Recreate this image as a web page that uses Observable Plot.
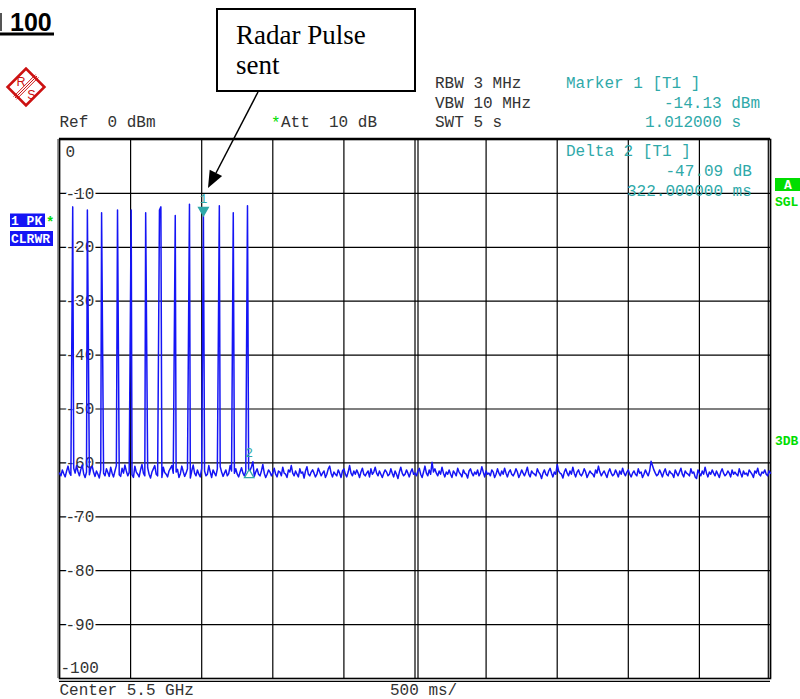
<!DOCTYPE html>
<html><head><meta charset="utf-8">
<script src="https://cdn.jsdelivr.net/npm/d3@7"></script>
<script src="https://cdn.jsdelivr.net/npm/@observablehq/plot@0.6"></script>
<style>body{margin:0;background:#fff} svg{display:block}</style>
</head><body><div id="chart"></div>
<script>
// ---- data ----
const sweepStep = 0.01; // s per sweep point
const noise = [
-61.9,-62.4,-61.3,-62.0,-62.6,-61.5,-60.6,-61.8,-62.3,-62.1,-61.0,-61.9,-60.5,-61.6,-62.4,-61.2,-60.4,-62.0,-62.7,-61.7,-61.4,-62.2,-61.0,-60.6,-61.8,
-62.5,-61.5,-62.1,-62.8,-61.3,-60.3,-61.9,-62.4,-61.1,-61.8,-62.5,-60.8,-61.9,-62.6,-61.5,-60.5,-61.4,-62.2,-62.5,-61.0,-61.9,-60.4,-61.5,-62.4,-61.8,
-61.1,-62.2,-62.7,-60.6,-61.7,-62.1,-62.6,-61.3,-60.3,-61.9,-62.4,-61.5,-60.9,-62.1,-62.8,-61.7,-61.1,-60.5,-62.1,-62.4,-61.3,-61.9,-62.7,-60.8,-61.8,
-62.1,-62.6,-61.5,-61.0,-60.5,-61.9,-62.4,-61.7,-61.2,-62.7,-62.0,-60.6,-61.6,-62.5,-61.9,-61.1,-62.1,-62.8,-61.5,-60.4,-61.9,-62.4,-61.3,-62.1,-62.6,
-61.0,-61.9,-61.5,-62.4,-62.1,-60.5,-61.7,-62.7,-61.3,-61.9,-62.4,-61.1,-62.1,-60.7,-61.7,-62.5,-61.9,-61.3,-62.4,-62.0,-60.5,-61.5,-62.7,-61.9,-61.1,
-62.1,-62.6,-61.7,-60.9,-61.9,-62.4,-61.5,-62.1,-61.2,-61.4,-60.7,-59.8,-62.5,-61.7,-61.1,-62.1,-62.4,-61.5,-60.3,-61.9,-62.7,-62.1,-61.3,-61.7,-62.4,
-61.9,-61.0,-62.1,-62.6,-61.5,-61.7,-62.4,-60.8,-61.9,-62.1,-62.7,-61.3,-61.7,-60.5,-61.9,-62.4,-61.5,-62.1,-62.6,-61.1,-61.9,-61.7,-62.8,-61.5,-60.7,
-62.1,-62.4,-61.7,-61.3,-61.9,-62.6,-62.1,-61.0,-61.7,-62.4,-61.9,-61.5,-62.7,-62.1,-61.1,-60.6,-61.9,-62.6,-61.7,-62.1,-62.4,-61.3,-61.9,-62.7,-61.5,
-61.1,-62.1,-62.6,-61.7,-60.5,-61.9,-62.4,-61.5,-62.1,-61.3,-61.9,-62.7,-61.7,-61.0,-62.1,-62.4,-61.9,-61.5,-62.6,-61.1,-62.1,-61.7,-60.8,-61.9,-62.4,
-61.5,-62.1,-62.7,-61.9,-61.3,-61.7,-62.4,-62.1,-61.1,-61.9,-62.6,-61.5,-62.1,-62.9,-61.7,-60.8,-61.9,-62.4,-62.1,-61.3,-61.9,-62.6,-61.7,-61.1,-62.1,
-61.9,-62.4,-61.5,-61.0,-62.1,-62.7,-61.7,-60.6,-61.9,-62.4,-61.3,-62.1,-59.9,-61.7,-61.1,-61.9,-62.4,-61.5,-62.1,-60.8,-61.9,-62.6,-61.7,-62.1,-61.3,
-62.1,-62.7,-61.5,-61.9,-62.4,-61.0,-61.7,-62.1,-62.6,-61.3,-61.9,-62.1,-62.8,-61.5,-61.1,-61.9,-62.4,-61.7,-62.1,-61.3,-62.4,-61.9,-60.7,-61.7,-62.6,
-61.5,-62.1,-61.9,-62.4,-61.3,-61.7,-62.7,-62.1,-61.1,-61.9,-62.4,-61.5,-62.1,-61.0,-61.9,-62.6,-61.7,-61.3,-62.1,-62.4,-61.9,-61.1,-61.7,-62.7,-62.1,
-61.3,-61.9,-62.4,-61.7,-60.8,-62.1,-62.6,-61.5,-61.9,-62.1,-62.4,-61.1,-61.7,-62.1,-62.9,-61.9,-61.3,-62.1,-62.4,-61.5,-61.0,-61.9,-62.6,-61.7,-62.1,
-60.3,-61.5,-61.9,-62.1,-62.8,-61.7,-61.1,-61.9,-62.4,-61.5,-62.1,-60.8,-61.9,-62.6,-61.7,-61.3,-62.1,-62.4,-61.9,-61.1,-61.7,-62.7,-62.1,-61.5,-61.9,
-62.1,-62.6,-61.3,-61.9,-60.6,-61.7,-62.4,-61.9,-61.5,-62.1,-62.7,-61.7,-61.1,-61.9,-62.4,-62.1,-61.3,-61.9,-62.6,-61.5,-62.1,-61.0,-61.9,-62.4,-61.7,
-61.3,-62.1,-62.6,-61.9,-61.5,-62.1,-62.4,-61.1,-61.9,-61.7,-62.7,-62.1,-61.3,-61.9,-62.4,-61.5,-59.7,-60.5,-61.3,-61.9,-62.4,-62.1,-61.3,-61.9,-62.6,
-61.7,-61.1,-62.1,-62.4,-61.5,-61.9,-62.1,-62.7,-61.3,-61.9,-62.4,-61.7,-61.0,-62.1,-62.6,-61.5,-61.9,-62.1,-62.4,-61.1,-61.9,-61.7,-62.6,-62.9,-61.3,
-61.9,-62.4,-61.5,-62.1,-60.8,-61.9,-62.6,-61.7,-62.1,-61.3,-61.9,-62.4,-61.5,-62.1,-62.7,-61.7,-61.1,-61.9,-62.4,-62.1,-61.5,-61.9,-62.6,-61.3,-62.1,
-61.7,-62.1,-62.4,-61.1,-61.9,-62.6,-61.5,-62.1,-61.9,-62.4,-61.3,-61.7,-62.1,-62.7,-61.5,-61.9,-61.0,-62.1,-62.4,-61.7,-61.9,-61.3,-62.1,-62.4,-61.5,
-61.9
];
const pulseTimes = [0.093, 0.196, 0.296, 0.408, 0.504, 0.606, 0.703, 0.713, 0.814, 0.914, 1.012, 1.124, 1.222, 1.322];
const pulsePeaks = [-12.5, -13.1, -13.6, -13.1, -13.1, -13.6, -13.1, -12.5, -14.1, -12.0, -14.13, -12.3, -13.6, -12.3];
const markerTimes = [1.012, 1.334];
const markerLevels = [-14.13, -61.22];
const markerNames = ["1", "2"];
const xGrid = [0, 0.5, 1, 1.5, 2, 2.5, 3, 3.5, 4, 4.5, 5];
const yTicks = [0, -10, -20, -30, -40, -50, -60, -70, -80, -90, -100];
const yLabels = ["0", "-10", "-20", "-30", "-40", "-50", "-60", "-70", "-80", "-90", "-100"];

// ---- build trace ----
const trace = noise.map((v, i) => ({t: i * sweepStep, dB: v}));
pulseTimes.forEach((tp, k) => {
  const i = Math.round(tp / sweepStep);
  trace[i] = {t: tp, dB: pulsePeaks[k]};
});
const markers = markerTimes.map((t, i) => ({t, dB: markerLevels[i], name: markerNames[i]}));

const mono = "Liberation Mono, Courier New, monospace";
const teal = "#2fa9a9";
const green = "#00dd00";
const blue = "#1515f5";

const midIdx = d3.range(1, yTicks.length - 1);

const chart = Plot.plot({
  width: 800, height: 699,
  marginLeft: 59, marginRight: 30, marginTop: 139, marginBottom: 21,
  x: {domain: [0, 5], axis: null},
  y: {domain: [-100, 0], axis: null},
  style: {background: "white", fontFamily: mono},
  marks: [
    Plot.ruleX(xGrid, {stroke: "#000", strokeWidth: 1.2}),
    Plot.ruleY(yTicks, {stroke: "#000", strokeWidth: 1.2}),
    Plot.ruleX([2.5], {dx: 3, stroke: "#000", strokeWidth: 1.2}),
    Plot.ruleX([0], {dx: -1.6, stroke: "#888", strokeWidth: 1.5}),
    Plot.ruleX([5], {dx: -2.2, stroke: "#000", strokeWidth: 1.2}),
    Plot.ruleY([-100], {dy: 2.8, stroke: "#000", strokeWidth: 1.2}),
    Plot.ruleY([0], {dy: -1.2, stroke: "#000", strokeWidth: 1.2}),
    Plot.frame({stroke: "#000", strokeWidth: 1.6}),
    Plot.text(midIdx, {y: i => yTicks[i], text: i => yLabels[i], frameAnchor: "left", dx: 6, textAnchor: "start",
      fill: "#333", stroke: "white", strokeWidth: 4, fontSize: 16, fontFamily: mono}),
    Plot.text([0], {y: i => yTicks[i], text: i => yLabels[i], frameAnchor: "left", dx: 6, dy: 12, textAnchor: "start",
      fill: "#333", fontSize: 16, fontFamily: mono}),
    Plot.text([yTicks.length - 1], {y: i => yTicks[i], text: i => yLabels[i], frameAnchor: "left", dx: 1, dy: -11, textAnchor: "start",
      fill: "#333", fontSize: 16, fontFamily: mono}),
    Plot.line(trace, {x: "t", y: "dB", stroke: blue, strokeWidth: 1.5}),
    Plot.dot(markers.slice(0, 1), {x: "t", y: "dB", symbol: "triangle", rotate: 180, r: 3.5, fill: teal, stroke: teal, dy: -5.4}),
    Plot.dot(markers.slice(1), {x: "t", y: "dB", symbol: "triangle", r: 3.5, fill: "none", stroke: teal, strokeWidth: 1.3, dy: 5.4}),
    Plot.text(markers, {x: "t", y: "dB", text: "name", dy: -17, fill: teal, fontSize: 13, fontFamily: mono})
  ]
});
document.getElementById("chart").appendChild(chart);

// ---- annotations (instrument screen text) ----
const svg = d3.select(chart);
function txt(x, y, s, o = {}) {
  return svg.append("text").attr("x", x).attr("y", y).text(s)
    .attr("font-family", o.family || mono).attr("font-size", o.size || 16)
    .attr("font-weight", o.weight || "normal").attr("fill", o.fill || "#333")
    .attr("text-anchor", o.anchor || "start");
}
// header
txt(59.5, 126.5, "Ref  0 dBm");
txt(271, 128, "*", {fill: green});
txt(281, 126.5, "Att  10 dB");
txt(435, 88, "RBW 3 MHz");
txt(435, 107.5, "VBW 10 MHz");
txt(435, 126.5, "SWT 5 s");
txt(566, 88, "Marker 1 [T1 ]", {fill: teal});
txt(664, 107.5, "-14.13 dBm", {fill: teal});
txt(645, 126.5, "1.012000 s", {fill: teal});
txt(566, 156, "Delta 2 [T1 ]", {fill: teal});
txt(665.5, 176, "-47.09 dB", {fill: teal});
txt(627, 195.5, "322.000000 ms", {fill: teal});
// bottom
txt(59.5, 694.5, "Center 5.5 GHz");
txt(390, 694.5, "500 ms/");
// left trace labels
svg.append("rect").attr("x", 10).attr("y", 213.5).attr("width", 35).attr("height", 13.5).attr("fill", blue);
txt(11, 224.5, "1 PK", {fill: "white", weight: "bold", size: 13});
txt(46, 227, "*", {fill: green, weight: "bold", size: 14});
svg.append("rect").attr("x", 10).attr("y", 231).attr("width", 43).attr("height", 15).attr("fill", blue);
txt(11, 242.5, "CLRWR", {fill: "white", weight: "bold", size: 13});
// right labels
svg.append("rect").attr("x", 775).attr("y", 178).attr("width", 26).attr("height", 13).attr("fill", green);
txt(784, 189, "A", {fill: "white", weight: "bold", size: 13});
txt(775, 206, "SGL", {fill: green, weight: "bold", size: 13});
txt(775, 445, "3DB", {fill: green, weight: "bold", size: 13});
// title
svg.append("rect").attr("x", 0).attr("y", 13).attr("width", 2).attr("height", 18).attr("fill", "#555");
txt(10, 30.5, "100", {family: "Liberation Sans, Arial, sans-serif", weight: "bold", size: 25, fill: "#000"});
svg.append("rect").attr("x", 0).attr("y", 32.5).attr("width", 54).attr("height", 3).attr("fill", "#000");
// R&S logo
const logo = svg.append("g").attr("transform", "translate(26,87)");
logo.append("rect").attr("x", -13).attr("y", -13).attr("width", 26).attr("height", 26)
  .attr("transform", "rotate(45)").attr("fill", "white").attr("stroke", "#cc1111").attr("stroke-width", 2.6);
[-2, 0, 2].forEach(o => logo.append("line").attr("x1", 11 + o * 0.7).attr("y1", -11 + o * 0.7).attr("x2", -11 + o * 0.7).attr("y2", 11 + o * 0.7)
  .attr("stroke", "#cc1111").attr("stroke-width", 1));
logo.append("text").attr("x", -5).attr("y", -1).attr("text-anchor", "middle").attr("font-family", "Liberation Sans, Arial, sans-serif")
  .attr("font-size", 12.5).attr("fill", "#cc1111").text("R");
logo.append("text").attr("x", 5.5).attr("y", 12).attr("text-anchor", "middle").attr("font-family", "Liberation Sans, Arial, sans-serif")
  .attr("font-size", 12.5).attr("fill", "#cc1111").text("S");
// callout box
svg.append("rect").attr("x", 217).attr("y", 9).attr("width", 198).attr("height", 82)
  .attr("fill", "white").attr("stroke", "#000").attr("stroke-width", 2);
txt(236, 43.5, "Radar Pulse", {family: "Liberation Serif, Times New Roman, serif", size: 27, fill: "#000"});
txt(236, 73.5, "sent", {family: "Liberation Serif, Times New Roman, serif", size: 27, fill: "#000"});
// arrow
svg.append("line").attr("x1", 258).attr("y1", 92).attr("x2", 216).attr("y2", 173).attr("stroke", "#000").attr("stroke-width", 1.5);
svg.append("path").attr("d", "M208,188 L222.1,176.1 L209.7,169.7 Z").attr("fill", "#000");
</script></body></html>
